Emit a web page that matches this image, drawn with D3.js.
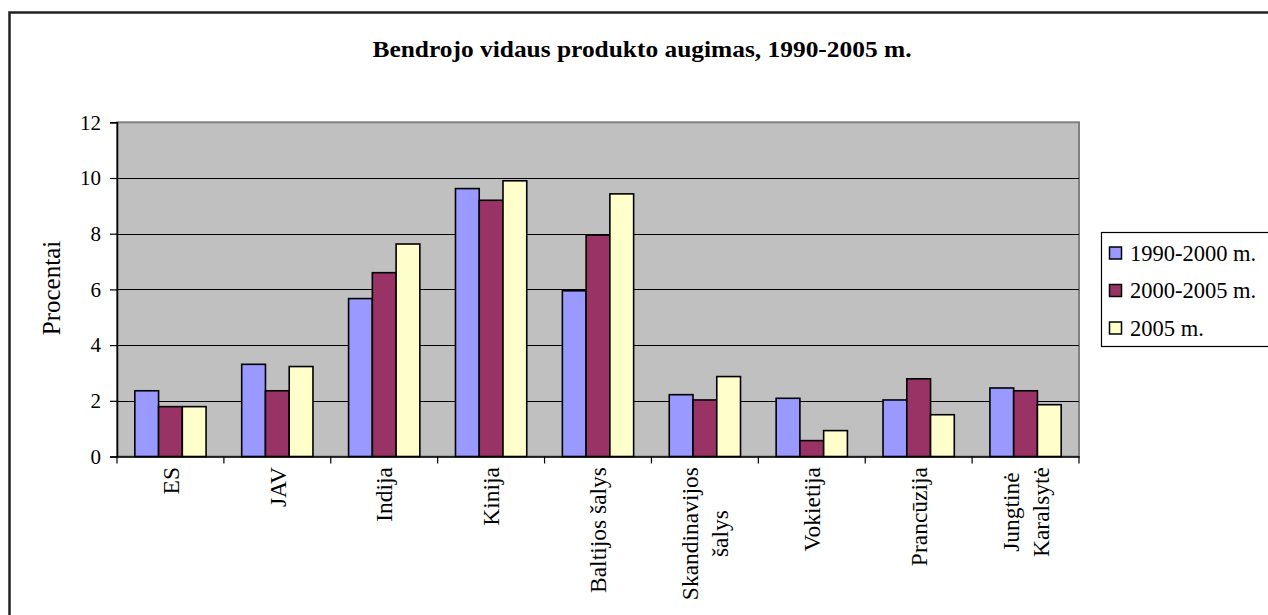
<!DOCTYPE html>
<html>
<head>
<meta charset="utf-8">
<script src="https://cdn.jsdelivr.net/npm/d3@7"></script>
<style>
  html, body { margin: 0; padding: 0; background: #fff; }
  svg { display: block; }
  text { font-family: "Liberation Serif", "Times New Roman", serif; fill: #000; }
</style>
</head>
<body>
<svg id="chart" width="1268" height="615"></svg>
<script>
// GDP growth by region, percent
const categories = [
  ["ES"], ["JAV"], ["Indija"], ["Kinija"], ["Baltijos šalys"],
  ["Skandinavijos", "šalys"], ["Vokietija"], ["Prancūzija"], ["Jungtinė", "Karalsytė"]
];
const seriesNames = ["1990-2000 m.", "2000-2005 m.", "2005 m."];
const v1990_2000 = [2.36, 3.31, 5.67, 9.62, 5.95, 2.22, 2.09, 2.03, 2.46];
const v2000_2005 = [1.79, 2.36, 6.60, 9.20, 7.95, 2.03, 0.57, 2.79, 2.36];
const v2005      = [1.79, 3.23, 7.63, 9.90, 9.43, 2.87, 0.93, 1.50, 1.86];
const yTicks = [0, 2, 4, 6, 8, 10, 12];
const colors = ["#9999FF", "#993366", "#FFFFCC"];

const seriesValues = [v1990_2000, v2000_2005, v2005];
const svg = d3.select("#chart");

// outer chart frame
svg.append("rect")
  .attr("x", 9.5).attr("y", 12.5).attr("width", 1290).attr("height", 640)
  .attr("fill", "#fff").attr("stroke", "#222").attr("stroke-width", 2.5);

// title
svg.append("text")
  .attr("x", 642).attr("y", 57)
  .attr("text-anchor", "middle")
  .attr("font-size", 24).attr("font-weight", "bold")
  .attr("textLength", 539).attr("lengthAdjust", "spacingAndGlyphs")
  .text("Bendrojo vidaus produkto augimas, 1990-2005 m.");

const plot = { left: 117, right: 1079, top: 122.3, bottom: 456.5 };

const x0 = d3.scaleBand()
  .domain(d3.range(categories.length))
  .range([plot.left, plot.right])
  .paddingInner(0).paddingOuter(0);
const bw = x0.bandwidth() / 4.5;
const x1 = d3.scaleBand()
  .domain(d3.range(seriesNames.length))
  .range([bw * 0.75, bw * 3.75]);
const y = d3.scaleLinear().domain([0, 12]).range([plot.bottom, plot.top]);

// plot area background
svg.append("rect")
  .attr("x", plot.left).attr("y", plot.top)
  .attr("width", plot.right - plot.left).attr("height", plot.bottom - plot.top)
  .attr("fill", "#C0C0C0").attr("stroke", "#808080").attr("stroke-width", 2);

// gridlines
svg.append("g")
  .selectAll("line")
  .data(yTicks.filter(t => t > 0 && t < 12))
  .join("line")
  .attr("x1", plot.left).attr("x2", plot.right)
  .attr("y1", d => Math.round(y(d)) + 0.5).attr("y2", d => Math.round(y(d)) + 0.5)
  .attr("stroke", "#000").attr("stroke-width", 1.2);

// bars
const groups = svg.append("g")
  .selectAll("g")
  .data(categories)
  .join("g")
  .attr("transform", (d, i) => `translate(${x0(i)},0)`);

groups.selectAll("rect")
  .data((d, i) => seriesValues.map((vals, s) => ({ s, v: vals[i] })))
  .join("rect")
  .attr("x", d => x1(d.s))
  .attr("width", x1.bandwidth())
  .attr("y", d => y(d.v))
  .attr("height", d => y(0) - y(d.v))
  .attr("fill", d => colors[d.s])
  .attr("stroke", "#000").attr("stroke-width", 1.6);

// y axis
const yAxis = d3.axisLeft(y).tickValues(yTicks).tickSize(7).tickPadding(9);
const gy = svg.append("g")
  .attr("transform", `translate(${plot.left},0)`)
  .call(yAxis);
gy.select(".domain").attr("stroke", "#000").attr("stroke-width", 1.5);
gy.selectAll(".tick line").attr("stroke", "#000").attr("stroke-width", 1.2);
gy.selectAll(".tick text")
  .attr("font-family", "Liberation Serif, Times New Roman, serif")
  .attr("font-size", 21).attr("fill", "#000");

// x axis: ticks at category boundaries
const xAxis = d3.axisBottom(x0).tickSize(0).tickFormat("");
const gx = svg.append("g")
  .attr("transform", `translate(0,${plot.bottom})`)
  .call(xAxis);
gx.select(".domain").attr("stroke", "#000").attr("stroke-width", 1.5);
gx.selectAll(".tick").remove();
gx.append("g")
  .selectAll("line")
  .data(d3.range(categories.length + 1))
  .join("line")
  .attr("x1", i => (i < categories.length ? x0(i) : plot.right))
  .attr("x2", i => (i < categories.length ? x0(i) : plot.right))
  .attr("y1", 0).attr("y2", 7)
  .attr("stroke", "#000").attr("stroke-width", 1.2);

// rotated category labels
const labelTop = 467;
const lineGap = 30;
categories.forEach((lines, i) => {
  const cx = x0(i) + x0.bandwidth() / 2;
  const g = svg.append("g");
  const texts = lines.map((ln, k) =>
    g.append("text")
      .attr("font-size", 23.5)
      .attr("text-anchor", "middle")
      .attr("dy", "0.35em")
      .text(ln));
  const maxW = d3.max(texts, t => t.node().getComputedTextLength());
  texts.forEach((t, k) => {
    const lx = cx + (k - (lines.length - 1) / 2) * lineGap;
    t.attr("transform", `translate(${lx},${labelTop + maxW / 2}) rotate(-90)`);
  });
});

// y axis title
svg.append("text")
  .attr("transform", `translate(51,${288}) rotate(-90)`)
  .attr("text-anchor", "middle")
  .attr("dy", "0.35em")
  .attr("font-size", 25)
  .text("Procentai");

// legend
const legend = svg.append("g");
legend.append("rect")
  .attr("x", 1101.5).attr("y", 232.5).attr("width", 170).attr("height", 114)
  .attr("fill", "#fff").attr("stroke", "#000").attr("stroke-width", 1.2);
const rowY = [253, 290.5, 328];
seriesNames.forEach((name, s) => {
  legend.append("rect")
    .attr("x", 1109.5).attr("y", rowY[s] - 6).attr("width", 12).attr("height", 12)
    .attr("fill", colors[s]).attr("stroke", "#000").attr("stroke-width", 1.5);
  legend.append("text")
    .attr("x", 1130).attr("y", rowY[s]).attr("dy", "0.35em")
    .attr("font-size", 22.5)
    .text(name);
});
</script>
</body>
</html>
